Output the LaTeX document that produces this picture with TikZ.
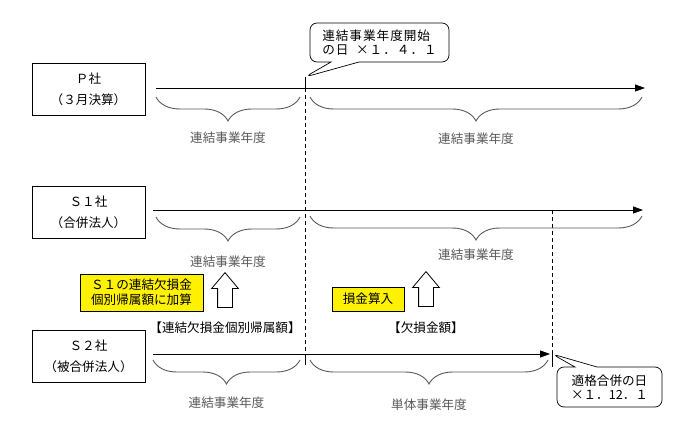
\documentclass[tikz,border=0pt]{standalone}
\usepackage{fontspec}
\newfontfamily\jp{Noto Sans CJK JP}
\usetikzlibrary{arrows.meta,positioning,decorations.pathreplacing,shapes.arrows,shapes.callouts}

\begin{document}
\begin{tikzpicture}[
      x=1pt, y=-1pt, font=\jp\fontsize{12.6}{15}\selectfont,
      co/.style={draw, line width=0.8pt, align=center, inner sep=0pt,
        minimum width=113pt, minimum height=52pt},
      note/.style={draw, line width=0.7pt, fill=yellow, align=center, inner sep=0pt},
      tl/.style={-{Triangle[length=10pt,width=7pt]}, line width=0.8pt},
      brc/.style={decorate, decoration={brace, mirror, amplitude=24pt},
        line width=0.9pt, black!65},
      upar/.style={single arrow, draw, line width=0.8pt, fill=white,
        shape border rotate=90, inner xsep=7pt, inner ysep=0pt, minimum height=35pt,
        minimum width=26pt, single arrow head extend=6pt, single arrow tip angle=80},
      callo/.style={rectangle callout, draw, line width=0.7pt, rounded corners=7pt,
        inner sep=0pt},
      lbl/.style={inner sep=0pt},
    ]
    \useasboundingbox (0,0) rectangle (690,430);
    % companies
    \node[co] (p) at (88.5,89) {Ｐ社\\[6pt]（３月決算）};
    \node[co] (s1) at (88.5,212) {Ｓ１社\\[6pt]（合併法人）};
    \node[co] (s2) at (88.5,356.5) {Ｓ２社\\[6pt]（被合併法人）};
    % timelines
    \coordinate (p0) at (156,88);  \coordinate (p1) at (645,88);
    \coordinate (a0) at (153,210); \coordinate (a1) at (643,210);
    \coordinate (b0) at (153,354); \coordinate (b1) at (550,354);
    \draw[tl] (p0) -- (p1);
    \draw[tl] (a0) -- (a1);
    \draw[tl] (b0) -- (b1);
    % start / merger dates
    \coordinate (st) at (305,77); \coordinate (stp) at (305,88);
    \coordinate (stb) at (305,354); \coordinate (stq) at (305,365);
    \draw[line width=0.8pt] (st) -- (stp);
    \draw[line width=0.8pt, dash pattern=on 4pt off 3pt] (stp) -- (stb);
    \draw[line width=0.8pt] (stb) -- (stq);
    \coordinate (mg) at (552,210); \coordinate (mgb) at (552,354);
    \coordinate (mgq) at (552,367);
    \draw[line width=0.8pt, dash pattern=on 4pt off 3pt] (mg) -- (mgb);
    \draw[line width=0.8pt] (mgb) -- (mgq);
    % braces
    \draw[brc] (156,97) -- node[lbl, below=34pt] (pl) {連結事業年度} (300,97);
    \draw[brc] (310,97) -- node[lbl, below=35pt] (pr) {連結事業年度} (642,97);
    \draw[brc] (156,217) -- node[lbl, below=38pt] (al) {連結事業年度} (300,217);
    \draw[brc] (310,216) -- node[lbl, below=32pt] (ar) {連結事業年度} (642,216);
    \draw[brc] (153,360) -- node[lbl, below=36pt] (bl) {連結事業年度} (300,360);
    \draw[brc] (310,360) -- node[lbl, below=38pt] (br) {単体事業年度} (548,360);
    % notes and arrows
    \node[note, minimum width=123pt, minimum height=37pt] (n1) at (141.5,292.5)
      {Ｓ１の連結欠損金\\個別帰属額に加算};
    \node[note, minimum width=72pt, minimum height=24pt] (n2) at (368,299) {損金算入};
    \node[upar] (u1) at (225,294.5) {};
    \node[upar] (u2) at (426,293.5) {};
    \node[lbl] (k1) at (225,328) {【連結欠損金個別帰属額】};
    \node[lbl] (k2) at (426,328) {【欠損金額】};
    % callouts
    \node[callo, minimum width=139pt, minimum height=39pt, align=left,
      callout pointer width=28pt, callout absolute pointer={(st)}] (c1) at (379.5,42.5)
      {\addfontfeature{LetterSpace=8}連結事業年度開始\\[-1pt]\addfontfeature{LetterSpace=8}の日\ \ ×１．４．１};
    \node[callo, minimum width=105pt, minimum height=40pt, align=center,
      callout pointer width=22pt, callout absolute pointer={(mgb)}] (c2) at (609.5,387)
      {適格合併の日\\[-1pt]×１．12．１};
  \end{tikzpicture}
\end{document}
